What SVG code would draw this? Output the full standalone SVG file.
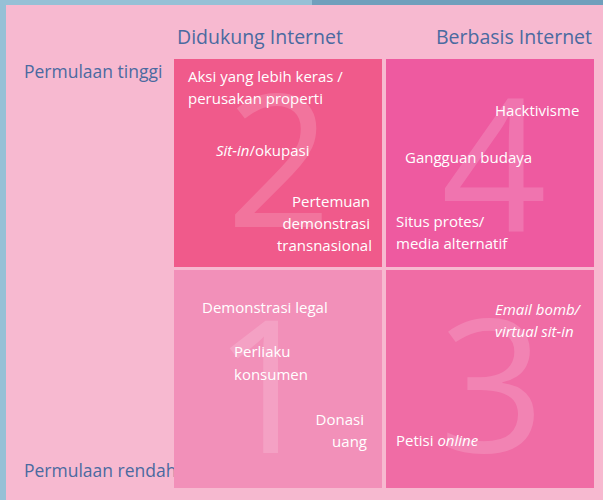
<svg xmlns="http://www.w3.org/2000/svg" width="603" height="500" viewBox="0 0 603 500">
  <style>
    .axis { font-family: "Open Sans", "Liberation Sans", sans-serif; fill: #4a6aa0; }
    .head { font-size: 19.5px; }
    .side { font-size: 17.5px; }
    .item { font-family: "Open Sans", "Liberation Sans", sans-serif; font-size: 15px; fill: #ffffff; }
    .end { text-anchor: end; }
    .it { font-style: italic; }
    .num { font-family: "Open Sans", "Liberation Sans", sans-serif; font-size: 185px; fill: #ffffff; fill-opacity: 0.16; text-anchor: middle; }
  </style>

  <!-- page background with blue frame edges -->
  <rect x="0" y="0" width="603" height="500" fill="#f7b9d0"/>
  <rect x="0" y="0" width="6" height="500" fill="#96c0d6"/>
  <rect x="0" y="0" width="312" height="5" fill="#96c0d6"/>
  <rect x="312" y="0" width="291" height="5" fill="#709fbc"/>

  <!-- axis labels -->
  <g id="axis-labels">
    <text class="axis head" x="177" y="44">Didukung Internet</text>
    <text class="axis head" x="592" y="44" text-anchor="end">Berbasis Internet</text>
    <text class="axis side" x="24" y="78">Permulaan tinggi</text>
    <text class="axis side" x="24" y="477">Permulaan rendah</text>
  </g>

  <!-- quadrant 2: internet-supported, high threshold -->
  <g id="q2">
    <rect x="174" y="59" width="208" height="208" fill="#f05a8b"/>
    <text class="num" x="279" y="227">2</text>
    <text class="item" x="188" y="82">Aksi yang lebih keras /</text>
    <text class="item" x="188" y="104">perusakan properti</text>
    <text class="item" x="216" y="156"><tspan class="it">Sit-in</tspan>/okupasi</text>
    <text class="item end" x="370" y="207">Pertemuan</text>
    <text class="item end" x="370" y="229">demonstrasi</text>
    <text class="item end" x="372" y="251">transnasional</text>
  </g>

  <!-- quadrant 4: internet-based, high threshold -->
  <g id="q4">
    <rect x="386" y="59" width="208" height="208" fill="#ee5aa0"/>
    <text class="num" x="494" y="232">4</text>
    <text class="item" x="495" y="116">Hacktivisme</text>
    <text class="item" x="405" y="163">Gangguan budaya</text>
    <text class="item" x="396" y="227">Situs protes/</text>
    <text class="item" x="396" y="249">media alternatif</text>
  </g>

  <!-- quadrant 1: internet-supported, low threshold -->
  <g id="q1">
    <rect x="174" y="270" width="208" height="218" fill="#f290b9"/>
    <text class="num" x="266" y="453">1</text>
    <text class="item" x="202" y="313">Demonstrasi legal</text>
    <text class="item" x="234" y="357">Perliaku</text>
    <text class="item" x="234" y="380">konsumen</text>
    <text class="item end" x="364" y="425">Donasi</text>
    <text class="item end" x="367" y="447">uang</text>
  </g>

  <!-- quadrant 3: internet-based, low threshold -->
  <g id="q3">
    <rect x="386" y="270" width="208" height="218" fill="#f06ca5"/>
    <text class="num" x="492" y="452">3</text>
    <text class="item it" x="495" y="315">Email bomb/</text>
    <text class="item it" x="495" y="337">virtual sit-in</text>
    <text class="item" x="396" y="446">Petisi <tspan class="it">online</tspan></text>
  </g>
</svg>
